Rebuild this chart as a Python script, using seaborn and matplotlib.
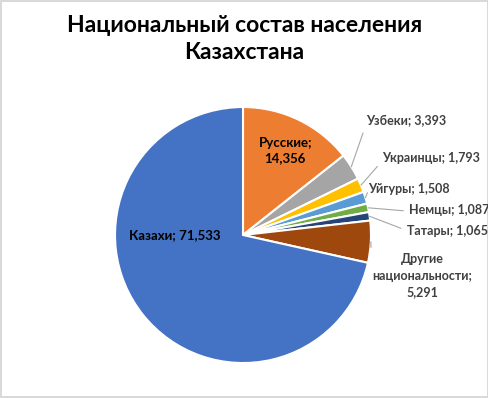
import numpy as np
import matplotlib
matplotlib.use("Agg")
import matplotlib.pyplot as plt
import seaborn as sns

# data, clockwise from 12 o'clock
groups = ["Русские", "Узбеки", "Украинцы", "Уйгуры", "Немцы", "Татары",
          "Другие\nнациональности", "Казахи"]
shares = [14.356, 3.393, 1.793, 1.508, 1.087, 1.065, 5.291, 71.533]
colors = ["#ED7D31", "#A5A5A5", "#FFC000", "#5B9BD5", "#70AD47", "#264478",
          "#9E480E", "#4472C4"]

# label placement (pie units, radius = 1), anchor, leader attach point
label_pos = {
    "Русские": (0.33, 0.66, "center", (0.5, 0.5)),
    "Казахи": (-0.53, 0.0, "center", (0.5, 0.5)),
    "Узбеки": (0.96, 0.89, "left", (0.0, 0.2)),
    "Украинцы": (1.09, 0.60, "left", (0.0, 0.3)),
    "Уйгуры": (0.98, 0.36, "left", (0.0, 0.4)),
    "Немцы": (1.30, 0.195, "left", (0.0, 0.4)),
    "Татары": (1.28, 0.035, "left", (0.0, 0.5)),
    "Другие\nнациональности": (1.40, -0.32, "center", (0.0, 0.3)),
}
inside = {"Русские", "Казахи"}

sns.set_theme(style="white")
plt.rcParams["font.family"] = ["Lato", "DejaVu Sans"]

fig = plt.figure(figsize=(4.89, 3.98), dpi=100)
fig.patch.set_facecolor("white")
fig.patch.set_edgecolor("#D9D9D9")
fig.patch.set_linewidth(1.5)

ax = fig.add_axes([0.2352, 0.0879, 0.5235, 0.6432])
wedges, _ = ax.pie(shares, colors=colors, startangle=90, counterclock=False,
                   wedgeprops=dict(edgecolor="white", linewidth=1.5))
ax.set_xlim(-1, 1)
ax.set_ylim(-1, 1)
ax.axis("off")

for w, name, val in zip(wedges, groups, shares):
    x, y, ha, rel = label_pos[name]
    val_txt = f"{val:.3f}".replace(".", ",")
    if name == "Русские" or "\n" in name:
        txt = f"{name};\n{val_txt}"
    else:
        txt = f"{name}; {val_txt}"
    if name in inside:
        ax.text(x, y, txt, ha=ha, va="center", fontsize=9.5,
                fontweight="bold", color="black", linespacing=1.3)
    else:
        mid = np.deg2rad((w.theta1 + w.theta2) / 2)
        ax.annotate(txt, xy=(np.cos(mid), np.sin(mid)),
                    xytext=(x, y), ha=ha, va="center", fontsize=9,
                    fontweight="bold", color="#404040", linespacing=1.45,
                    annotation_clip=False,
                    arrowprops=dict(arrowstyle="-", color="#A6A6A6", lw=0.8,
                                    relpos=rel, shrinkA=2, shrinkB=0))

fig.text(0.5, 0.902, "Национальный состав населения\nКазахстана", ha="center",
         va="center", fontsize=16.5, fontweight="bold", color="black",
         linespacing=1.4)

fig.savefig("out.png", dpi=100)
